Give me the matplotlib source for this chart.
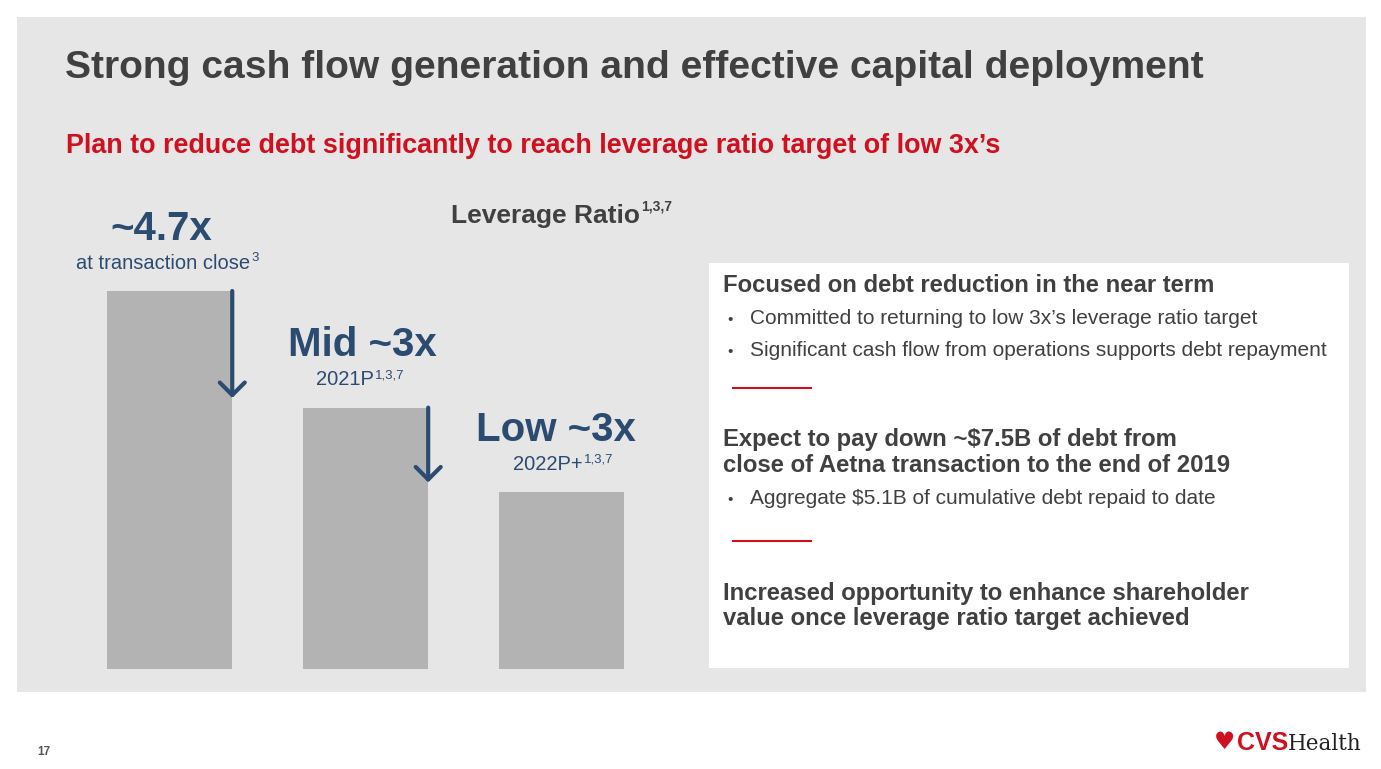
import numpy as np
import matplotlib
matplotlib.use("Agg")
import matplotlib.pyplot as plt
import matplotlib.transforms as mtransforms
from matplotlib.patches import Rectangle
from matplotlib.text import Annotation

# data
bar_heights = [4.7, 3.25, 2.2]
bar_labels = ["~4.7x", "Mid ~3x", "Low ~3x"]
bar_sublabels = ["at transaction close", "2021P", "2022P+"]
bar_sups = ["3", "1,3,7", "1,3,7"]

title = "Strong cash flow generation and effective capital deployment"
subtitle = "Plan to reduce debt significantly to reach leverage ratio target of low 3x\u2019s"

NAVY = "#2c4b70"
GRAY_TXT = "#404040"
RED = "#d0101e"
PANEL = "#e6e6e6"
BAR = "#b3b3b3"

plt.rcParams['font.family'] = ['Liberation Sans', 'DejaVu Sans']

W, H = 1381, 769
fig = plt.figure(figsize=(W / 100, H / 100), dpi=100)
fig.patch.set_facecolor("white")

# pixel coords, y measured from top
px = mtransforms.Affine2D().scale(1 / W, -1 / H).translate(0, 1) + fig.transFigure

fig.patches.append(Rectangle((17, 17), 1349, 675, transform=px, facecolor=PANEL,
                             edgecolor="none", zorder=-3))
fig.patches.append(Rectangle((709, 263), 640, 405, transform=px, facecolor="white",
                             edgecolor="none", zorder=-2))


def sup(parent, s, size, color, dy=-1, **kw):
    a = Annotation(s, xy=(1, 1), xycoords=parent, xytext=(1, dy),
                   textcoords="offset points", ha="left", va="top",
                   fontsize=size, color=color, **kw)
    fig.add_artist(a)
    return a


fig.text(65, 78, title, transform=px, fontsize=28.1, fontweight="bold",
         color=GRAY_TXT, va="baseline")
fig.text(66, 153, subtitle, transform=px, fontsize=19.4, fontweight="bold",
         color=RED, va="baseline")

lev = fig.text(451, 223, "Leverage Ratio", transform=px, fontsize=19, fontweight="bold",
               color=GRAY_TXT, va="baseline")
sup(lev, "1,3,7", 10, GRAY_TXT, dy=3, fontweight="bold")

# bar chart
ax = fig.add_axes([70 / W, (H - 669) / H, 590 / W, 419 / H])
ax.set_facecolor("none")
x = np.arange(len(bar_heights))
ax.bar(x, bar_heights, width=0.64, color=BAR, zorder=2)
ax.set_xlim(-0.508, 2.503)
ax.set_ylim(0, 4.7 * 419 / 378)
ax.axis("off")

for i in range(len(bar_heights) - 1):
    xe = x[i] + 0.32
    ax.annotate("", xy=(xe, bar_heights[i + 1] + 0.12), xytext=(xe, bar_heights[i]),
                arrowprops=dict(arrowstyle="->,head_length=0.45,head_width=0.45",
                                lw=3, color=NAVY, mutation_scale=20,
                                shrinkA=0, shrinkB=0), zorder=3)

lab_dx = [-6, -2, -4]
sub_dx = [-5, -15, -10]
for i, h in enumerate(bar_heights):
    ax.annotate(bar_labels[i], xy=(x[i], h), xytext=(lab_dx[i], 37),
                textcoords="offset points", ha="center", va="baseline",
                fontsize=29, fontweight="bold", color=NAVY)
    sub = ax.annotate(bar_sublabels[i], xy=(x[i], h), xytext=(sub_dx[i], 16),
                      textcoords="offset points", ha="center", va="baseline",
                      fontsize=14.5, color=NAVY)
    sup(sub, bar_sups[i], 9.5, NAVY, dy=1)


# right text box
def t(xp, yp, s, **kw):
    kw.setdefault("color", GRAY_TXT)
    return fig.text(xp, yp, s, transform=px, va="baseline", **kw)


t(723, 292, "Focused on debt reduction in the near term", fontsize=17.2, fontweight="bold")
t(727, 324, "\u2022", fontsize=11)
t(750, 324, "Committed to returning to low 3x\u2019s leverage ratio target", fontsize=15)
t(727, 356, "\u2022", fontsize=11)
t(750, 356, "Significant cash flow from operations supports debt repayment", fontsize=15)
fig.lines.append(plt.Line2D([733, 811], [388, 388], transform=px, color=RED, lw=1.5))
t(723, 446, "Expect to pay down ~$7.5B of debt from", fontsize=17.2, fontweight="bold")
t(723, 472, "close of Aetna transaction to the end of 2019", fontsize=17.2, fontweight="bold")
t(727, 504, "\u2022", fontsize=11)
t(750, 504, "Aggregate $5.1B of cumulative debt repaid to date", fontsize=15)
fig.lines.append(plt.Line2D([733, 811], [541, 541], transform=px, color=RED, lw=1.5))
t(723, 600, "Increased opportunity to enhance shareholder", fontsize=17.2, fontweight="bold")
t(723, 625, "value once leverage ratio target achieved", fontsize=17.2, fontweight="bold")

# footer
t(37, 755, "17", fontsize=8.5, fontweight="bold", color="#555555")
t(1214, 749, "\u2665", fontsize=17, color=RED, family=['DejaVu Sans'])
cvs = t(1237, 750, "CVS", fontsize=18, fontweight="bold", color=RED)
health = Annotation("Health", xy=(1, 0), xycoords=cvs, xytext=(0, 0),
                    textcoords="offset points", va="bottom", ha="left",
                    fontsize=15.5, color="#222222", family=['DejaVu Serif'])
fig.add_artist(health)

fig.savefig("out.png", dpi=100)
